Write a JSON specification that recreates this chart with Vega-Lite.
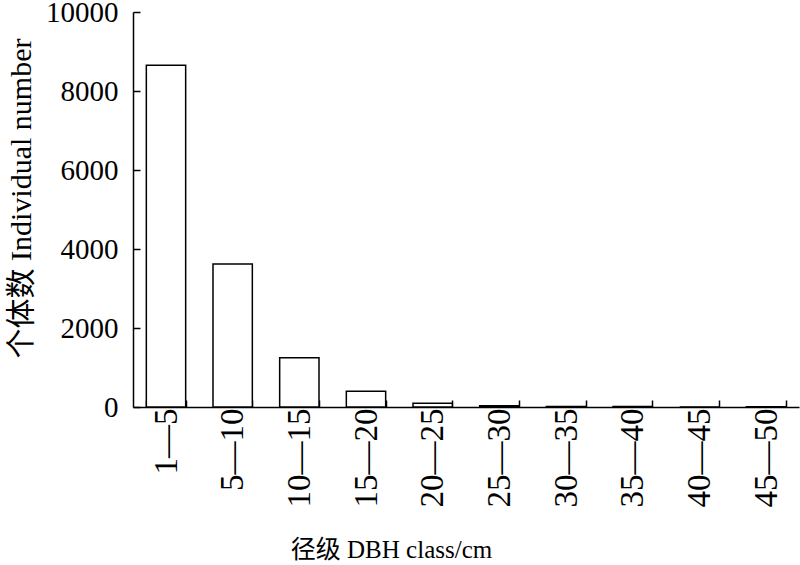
{
  "$schema": "https://vega.github.io/schema/vega-lite/v6.json",
  "width": 666,
  "height": 395,
  "autosize": "none",
  "padding": {"left": 133, "top": 12, "right": 1, "bottom": 158},
  "background": "white",
  "data": {
    "values": [
      {"class": "1—5", "count": 8650},
      {"class": "5—10", "count": 3620},
      {"class": "10—15", "count": 1250},
      {"class": "15—20", "count": 400},
      {"class": "20—25", "count": 95},
      {"class": "25—30", "count": 30},
      {"class": "30—35", "count": 10},
      {"class": "35—40", "count": 10},
      {"class": "40—45", "count": 0},
      {"class": "45—50", "count": 8}
    ]
  },
  "config": {
    "view": {"stroke": null},
    "font": "Liberation Serif, Noto Sans CJK SC",
    "axis": {
      "domainColor": "black",
      "domainWidth": 1.5,
      "tickColor": "black",
      "tickWidth": 1.5,
      "labelColor": "black",
      "titleColor": "black",
      "labelFont": "Liberation Serif, Noto Sans CJK SC",
      "titleFont": "Liberation Serif, Noto Sans CJK SC",
      "titleFontWeight": "normal",
      "grid": false
    }
  },
  "mark": {"type": "bar", "fill": "white", "stroke": "black", "strokeWidth": 1.5},
  "encoding": {
    "x": {
      "field": "class",
      "type": "nominal",
      "sort": null,
      "scale": {"paddingInner": 0.41, "paddingOuter": 0.2},
      "axis": {
        "title": "径级  DBH class/cm",
        "titleFontSize": 25,
        "titleX": 258,
        "titlePadding": 30,
        "labelAngle": -90,
        "labelFontSize": 33,
        "labelPadding": 8,
        "labelLimit": 300,
        "tickBand": "extent",
        "tickSize": -7
      }
    },
    "y": {
      "field": "count",
      "type": "quantitative",
      "scale": {"domain": [0, 10000]},
      "axis": {
        "title": "个体数 Individual number",
        "titleFontSize": 30,
        "titleY": 186,
        "titlePadding": 9,
        "values": [0, 2000, 4000, 6000, 8000, 10000],
        "format": "d",
        "labelFontSize": 29,
        "labelPadding": 22,
        "tickSize": -7
      }
    }
  }
}
